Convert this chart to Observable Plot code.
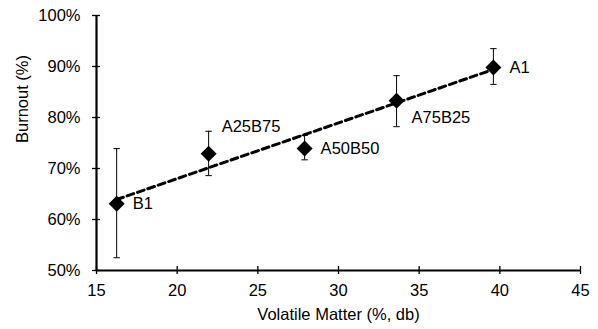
<!DOCTYPE html>
<html><head><meta charset="utf-8">
<script src="https://cdn.jsdelivr.net/npm/d3@7"></script>
<script src="https://cdn.jsdelivr.net/npm/@observablehq/plot@0.6"></script>
<style>body{margin:0;background:#fff;} svg{font-family:"Liberation Sans",Arial,sans-serif;}</style>
</head><body><div id="chart"></div>
<script>
const samples = ["B1", "A25B75", "A50B50", "A75B25", "A1"];
const volatile = [16.25, 21.95, 27.9, 33.6, 39.6];
const burnout = [63.1, 72.9, 73.9, 83.3, 89.8];
const errLow = [52.5, 68.6, 71.7, 78.2, 86.5];
const errHigh = [73.9, 77.3, 76.5, 88.2, 93.5];
const labelPos = ["right", "above", "right", "below", "right"];
const xTicks = [15, 20, 25, 30, 35, 40, 45];
const yTicks = [50, 60, 70, 80, 90, 100];

const data = samples.map((s, i) => ({s, x: volatile[i], y: burnout[i], lo: errLow[i], hi: errHigh[i], pos: labelPos[i]}));
const cap = {draw(ctx, size) { const r = 3.2; ctx.moveTo(-r, 0); ctx.lineTo(r, 0); }};
const font = 16.5;

const chart = Plot.plot({
  width: 598, height: 329,
  marginLeft: 96, marginRight: 18, marginTop: 15, marginBottom: 59,
  style: {fontSize: font + "px", fontFamily: "Liberation Sans, Arial, sans-serif", color: "#000", background: "#fff"},
  x: {domain: [15, 45]},
  y: {domain: [50, 100]},
  marks: [
    Plot.axisX({ticks: xTicks, tickSize: 8, dy: -4, text: null, label: null, strokeWidth: 1.3}),
    Plot.axisX({ticks: xTicks, tickSize: 0, tickPadding: 14, label: null, fontSize: font}),
    Plot.axisY({ticks: yTicks, tickSize: 8, dx: 4, text: null, label: null, strokeWidth: 1.3}),
    Plot.axisY({ticks: yTicks, tickSize: 0, tickPadding: 16, tickFormat: d => d + "%", label: null, fontSize: font}),
    Plot.ruleX([15], {strokeWidth: 2.2}),
    Plot.ruleY([50], {strokeWidth: 2.2}),
    Plot.text(["Volatile Matter (%, db)"], {frameAnchor: "bottom", dy: 49, fontSize: font}),
    Plot.text(["Burnout (%)"], {frameAnchor: "left", dx: -74, rotate: -90, fontSize: font}),
    Plot.linearRegressionY(data, {x: "x", y: "y", ci: 0, stroke: "#000", strokeWidth: 3, strokeDasharray: "7,4"}),
    Plot.ruleX(data, {x: "x", y1: "lo", y2: "hi", stroke: "#000", strokeWidth: 1}),
    Plot.dot(data, {x: "x", y: "lo", symbol: cap, stroke: "#000", strokeWidth: 1, fill: "none"}),
    Plot.dot(data, {x: "x", y: "hi", symbol: cap, stroke: "#000", strokeWidth: 1, fill: "none"}),
    Plot.dot(data, {x: "x", y: "y", symbol: "diamond2", r: 7.2, fill: "#000", stroke: "none"}),
    Plot.text(data.filter(d => d.pos === "right"), {x: "x", y: "y", text: "s", textAnchor: "start", dx: 16, fontSize: font}),
    Plot.text(data.filter(d => d.pos === "above"), {x: "x", y: "y", text: "s", textAnchor: "start", dx: 13, dy: -27, fontSize: font}),
    Plot.text(data.filter(d => d.pos === "below"), {x: "x", y: "y", text: "s", textAnchor: "start", dx: 15, dy: 17, fontSize: font})
  ]
});
document.getElementById("chart").appendChild(chart);
</script></body></html>
